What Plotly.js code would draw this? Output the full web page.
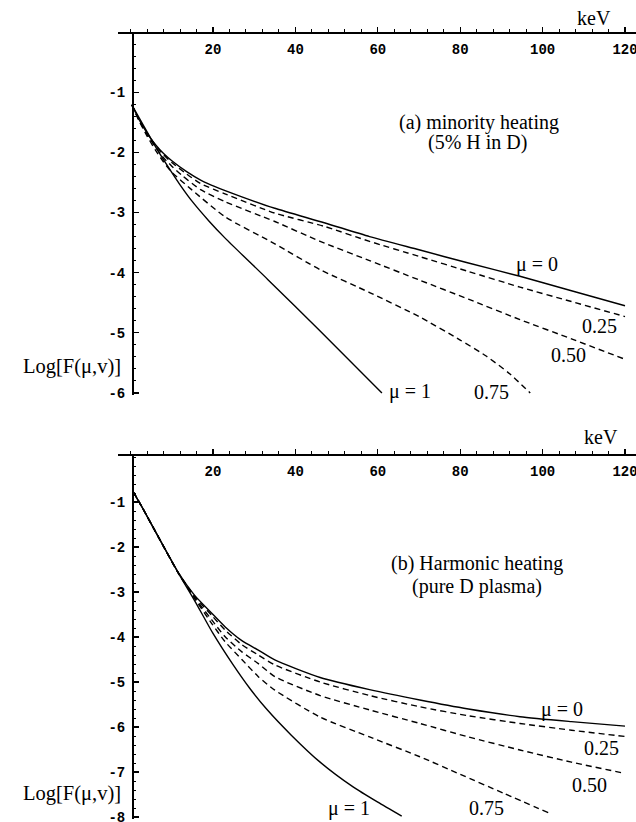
<!DOCTYPE html>
<html>
<head>
<meta charset="utf-8">
<script src="https://cdn.plot.ly/plotly-3.0.1.min.js"></script>
<style>html,body{margin:0;padding:0;background:#fff;}#chart{width:636px;height:822px;}</style>
</head>
<body>
<div id="chart"></div>
<script>
// ---------- Data: panel (a) minority heating (5% H in D) ----------
const aX_mu0   = [0.3, 2, 4, 6, 8, 10, 13.6, 17, 20.5, 27, 35, 47, 58, 70, 82, 94.5, 107, 120];
const aY_mu0   = [-1.21, -1.45, -1.68, -1.87, -2.02, -2.14, -2.32, -2.46, -2.57, -2.74, -2.93, -3.17, -3.40, -3.62, -3.84, -4.06, -4.30, -4.55];
const aX_mu025 = [0.3, 2, 4, 6, 8, 10, 13.6, 17, 22.9, 35, 47, 58, 70, 82, 94.5, 107, 120];
const aY_mu025 = [-1.21, -1.45, -1.68, -1.88, -2.04, -2.17, -2.36, -2.52, -2.69, -3.01, -3.23, -3.48, -3.73, -3.98, -4.24, -4.48, -4.73];
const aX_mu050 = [0.3, 2, 4, 6, 8, 10, 12.4, 17, 22.9, 35, 46, 58, 70, 82, 94.5, 107, 120];
const aY_mu050 = [-1.21, -1.46, -1.70, -1.91, -2.09, -2.23, -2.38, -2.62, -2.82, -3.15, -3.48, -3.80, -4.12, -4.44, -4.78, -5.10, -5.44];
const aX_mu075 = [0.3, 2, 4, 6, 8, 10, 14.8, 22.9, 35, 46, 58, 70, 80, 86.4, 92, 97];
const aY_mu075 = [-1.21, -1.47, -1.73, -1.96, -2.16, -2.33, -2.62, -3.07, -3.52, -3.95, -4.33, -4.73, -5.12, -5.39, -5.68, -6.0];
const aX_mu1   = [0.3, 3, 6, 9, 12, 15, 19, 23, 33.4, 46, 61];
const aY_mu1   = [-1.21, -1.54, -1.90, -2.23, -2.54, -2.82, -3.14, -3.43, -4.12, -4.97, -6.0];

// ---------- Data: panel (b) harmonic heating (pure D plasma) ----------
const bX_mu0   = [0.6, 3, 6.7, 11.6, 15.6, 19.7, 22.9, 27, 31, 35, 46, 58, 70.2, 82, 94.5, 107, 120];
const bY_mu0   = [-0.77, -1.15, -1.77, -2.57, -3.08, -3.47, -3.77, -4.08, -4.29, -4.51, -4.90, -5.17, -5.40, -5.60, -5.77, -5.88, -5.98];
const bX_mu025 = [0.6, 3, 6.7, 11.6, 15.6, 19.7, 22.9, 27, 31, 35, 46, 58, 70.2, 82, 94.5, 107, 120];
const bY_mu025 = [-0.77, -1.15, -1.77, -2.58, -3.10, -3.52, -3.84, -4.17, -4.40, -4.62, -5.00, -5.30, -5.55, -5.75, -5.92, -6.07, -6.21];
const bX_mu050 = [0.6, 3, 6.7, 11.6, 15.6, 19.7, 22.9, 27, 31, 35, 46, 58, 70.2, 82, 94.5, 107, 120];
const bY_mu050 = [-0.77, -1.15, -1.77, -2.58, -3.13, -3.62, -3.99, -4.33, -4.59, -4.88, -5.30, -5.62, -5.92, -6.22, -6.51, -6.78, -7.03];
const bX_mu075 = [0.6, 3, 6.7, 11.6, 15.6, 19.7, 22.9, 27, 31, 35, 46, 58, 70.2, 80, 90.5, 101.8];
const bY_mu075 = [-0.77, -1.15, -1.77, -2.58, -3.15, -3.70, -4.10, -4.50, -4.88, -5.18, -5.78, -6.22, -6.66, -7.05, -7.47, -7.92];
const bX_mu1   = [0.6, 3, 6.7, 11.6, 15.6, 20, 24.9, 29, 33, 39, 46, 54, 60, 65.8];
const bY_mu1   = [-0.77, -1.15, -1.77, -2.58, -3.20, -3.92, -4.62, -5.15, -5.60, -6.18, -6.78, -7.33, -7.67, -7.98];

// ---------- Tick labels ----------
const xTickVals  = [20, 40, 60, 80, 100, 120];
const xTickText  = ['20', '40', '60', '80', '100', '120'];
const yTickValsA = [-1, -2, -3, -4, -5, -6];
const yTickTextA = ['-1', '-2', '-3', '-4', '-5', '-6'];
const yTickValsB = [-1, -2, -3, -4, -5, -6, -7, -8];
const yTickTextB = ['-1', '-2', '-3', '-4', '-5', '-6', '-7', '-8'];

// ---------- Text ----------
const curveLabelsA = ['\u03bc = 0', '0.25', '0.50', '0.75', '\u03bc = 1'];
const curveLabelsB = ['\u03bc = 0', '0.25', '0.50', '0.75', '\u03bc = 1'];

// ---------- Helpers ----------
const W = 636, H = 822;
const px = x => x / W;
const py = y => 1 - y / H;

function minorTicks(lo, hi, step) {
  const out = [];
  const n = Math.round((hi - lo) / step);
  for (let i = 0; i <= n; i++) out.push(+(lo + i * step).toFixed(3));
  return out;
}
const xMinor  = minorTicks(0, 120, 4);
const yMinorA = minorTicks(-6, 0, 0.2);
const yMinorB = minorTicks(-8, 0, 0.2);

const solid = {color: '#000', width: 1.4, shape: 'spline', smoothing: 0.6};
const dashed = {color: '#000', width: 1.4, dash: '6px,4px', shape: 'spline', smoothing: 0.6};

function tr(x, y, line, xa, ya) {
  return {x: x, y: y, type: 'scatter', mode: 'lines', line: line, xaxis: xa, yaxis: ya, hoverinfo: 'skip'};
}

const data = [
  tr(aX_mu0, aY_mu0, solid, 'x', 'y'),
  tr(aX_mu025, aY_mu025, dashed, 'x', 'y'),
  tr(aX_mu050, aY_mu050, dashed, 'x', 'y'),
  tr(aX_mu075, aY_mu075, dashed, 'x', 'y'),
  tr(aX_mu1, aY_mu1, solid, 'x', 'y'),
  tr(bX_mu0, bY_mu0, solid, 'x2', 'y2'),
  tr(bX_mu025, bY_mu025, dashed, 'x2', 'y2'),
  tr(bX_mu050, bY_mu050, dashed, 'x2', 'y2'),
  tr(bX_mu075, bY_mu075, dashed, 'x2', 'y2'),
  tr(bX_mu1, bY_mu1, solid, 'x2', 'y2')
];

const tickFont = {family: 'Liberation Mono, DejaVu Sans Mono, monospace', size: 14, weight: 'bold', color: '#000'};
const serif = 'Liberation Serif, DejaVu Serif, serif';

function xAxis(linePx) {
  return {
    domain: [118 / W, 1], range: [-3.06, 122.67],
    anchor: 'free', position: py(linePx), side: 'bottom',
    showline: true, linecolor: '#000', linewidth: 1.5,
    ticks: 'inside', ticklen: 5, tickwidth: 1.2, tickcolor: '#000',
    tickmode: 'array', tickvals: xTickVals, ticktext: xTickText,
    tickfont: tickFont, ticklabelstandoff: 4, ticklabeloverflow: 'allow',
    showgrid: false, zeroline: false,
    minor: {tickmode: 'array', tickvals: xMinor, ticklen: 3, tickwidth: 1, tickcolor: '#000', ticks: 'inside', showgrid: false}
  };
}
function yAxis(topPx, botPx, range, vals, text, minorVals) {
  return {
    domain: [py(botPx), py(topPx)], range: range,
    anchor: 'free', position: px(132), side: 'left',
    showline: true, linecolor: '#000', linewidth: 1.5,
    ticks: 'inside', ticklen: 5, tickwidth: 1.2, tickcolor: '#000',
    tickmode: 'array', tickvals: vals, ticktext: text,
    tickfont: tickFont, ticklabelstandoff: 4, ticklabeloverflow: 'allow',
    showgrid: false, zeroline: false,
    minor: {tickmode: 'array', tickvals: minorVals, ticklen: 2.5, tickwidth: 1, tickcolor: '#000', ticks: 'inside', showgrid: false}
  };
}

function pText(text, x, y, size, xanchor) {
  return {text: text, xref: 'paper', yref: 'paper', x: px(x), y: py(y), xanchor: xanchor || 'center', yanchor: 'middle',
          showarrow: false, font: {family: serif, size: size, color: '#000'}};
}
function dText(text, x, y, xr, yr) {
  return {text: text, xref: xr, yref: yr, x: x, y: y, xanchor: 'center', yanchor: 'middle',
          showarrow: false, font: {family: serif, size: 20, color: '#000'}};
}

const annotations = [
  pText('keV', 594, 18, 20),
  pText('(a) minority heating', 479, 122, 20),
  pText('(5% H in D)', 477, 143, 20),
  pText('Log[F(\u03bc,v)]', 123, 366, 20.5, 'right'),
  pText('keV', 601, 437, 20),
  pText('(b) Harmonic heating', 477, 563, 20),
  pText('(pure D plasma)', 477, 586, 20),
  pText('Log[F(\u03bc,v)]', 123, 793, 20.5, 'right'),
  dText(curveLabelsA[0], 98.6, -3.86, 'x', 'y'),
  dText(curveLabelsA[1], 113.9, -4.89, 'x', 'y'),
  dText(curveLabelsA[2], 106.4, -5.37, 'x', 'y'),
  dText(curveLabelsA[3], 87.5, -5.98, 'x', 'y'),
  dText(curveLabelsA[4], 67.8, -5.98, 'x', 'y'),
  dText(curveLabelsB[0], 104.7, -5.6, 'x2', 'y2'),
  dText(curveLabelsB[1], 114.2, -6.47, 'x2', 'y2'),
  dText(curveLabelsB[2], 111.3, -7.29, 'x2', 'y2'),
  dText(curveLabelsB[3], 86.5, -7.8, 'x2', 'y2'),
  dText(curveLabelsB[4], 53, -7.8, 'x2', 'y2')
];

const layout = {
  width: W, height: H,
  margin: {l: 0, r: 0, t: 0, b: 0},
  paper_bgcolor: '#fff', plot_bgcolor: 'rgba(0,0,0,0)',
  showlegend: false,
  xaxis: xAxis(32),
  yaxis: yAxis(32, 394.8, [-6.03, 0], yTickValsA, yTickTextA, yMinorA),
  xaxis2: xAxis(454),
  yaxis2: yAxis(454, 819.3, [-8.05, 0.067], yTickValsB, yTickTextB, yMinorB),
  annotations: annotations
};

Plotly.newPlot('chart', data, layout, {staticPlot: true, displayModeBar: false});
</script>
</body>
</html>
